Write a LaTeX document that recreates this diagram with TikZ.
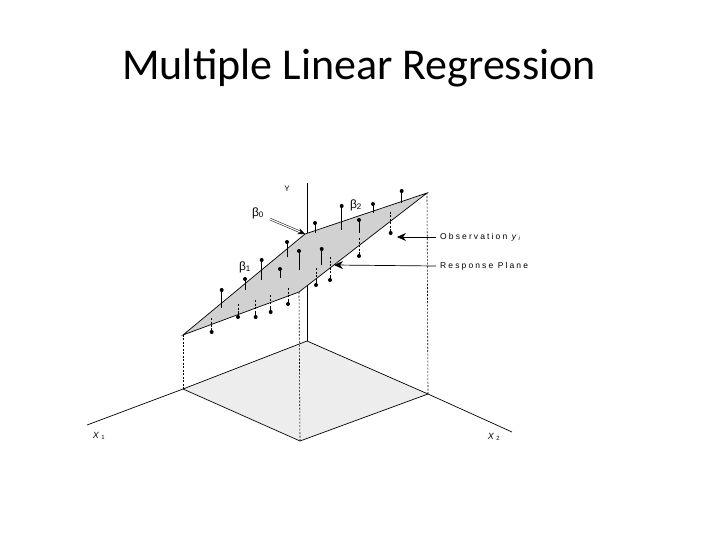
\documentclass[tikz,border=0pt]{standalone}
\usepackage{fontspec}
\setmainfont{Carlito}
\newfontfamily\lab[LetterSpace=25]{Liberation Sans}
\newfontfamily\grk{Liberation Sans}
\usetikzlibrary{arrows.meta}
\begin{document}
\begin{tikzpicture}[x=1pt,y=-1pt,
  ln/.style={line width=0.7pt},
  dsh/.style={line width=0.6pt,dash pattern=on 2pt off 1.5pt},
  dt/.style={circle,fill=black,inner sep=0pt,minimum size=4pt},
  lbl/.style={font=\lab\fontsize{8.5}{10}\selectfont,anchor=west,inner sep=0pt}]
\useasboundingbox (0,0) rectangle (720,540);
\node[font=\fontsize{44}{48}\selectfont] (title) at (359,68) {Multiple Linear Regression};
% floor
\coordinate (O) at (307,341); \coordinate (FL) at (183,389);
\coordinate (FF) at (300,441); \coordinate (FR) at (428,394);
\coordinate (X1) at (87,425); \coordinate (X2) at (512,432);
\coordinate (Yt) at (307,183);
\fill[black!7] (O) -- (FL) -- (FF) -- (FR) -- cycle;
\draw[ln] (X1) -- (FL) -- (O) -- (FR) -- (X2);
\draw[ln] (FL) -- (FF) -- (FR);
\draw[ln] (O) -- (Yt);
% plane
\coordinate (PL) at (183,335); \coordinate (PF) at (299,292);
\coordinate (PR) at (427,193); \coordinate (PB) at (305,234);
\draw[dsh] (FL) -- (PL); \draw[dsh] (FF) -- (PF); \draw[dsh] (FR) -- (PR);
\filldraw[fill=black!18,draw=black,ln] (PL) -- (PB) -- (PR) -- (PF) -- cycle;
% points above
\foreach \x/\d/\p in {221.7/290/308,245/279/290,261.7/260/280,280/269/278,287/242/257,299/251/270,315/223/233,321.7/249/265,341.7/206/230,359/220/233,373/204/213,401.7/191/203}{
  \draw[ln] (\x,\p) -- (\x,\d); \node[dt] at (\x,\d) {};}
% points below
\foreach \x/\d/\p in {211.7/332/318,238/317/304,255.7/317/300,270.7/312/295,288/304/288,316/285/268,330/280/257,359/256/238,390.7/233/212}{
  \draw[dsh] (\x,\p) -- (\x,\d-4); \draw[ln] (\x,\d-4) -- (\x,\d); \node[dt] at (\x,\d) {};}
% labels
\node[font=\lab\fontsize{8}{9}\selectfont] (ylab) at (287,189) {Y};
\node[font=\grk\fontsize{12}{12}\selectfont] (b0) at (258,213) {β\textsubscript{0}};
\node[font=\grk\fontsize{12}{12}\selectfont] (b1) at (245,267) {β\textsubscript{1}};
\node[font=\grk\fontsize{12}{12}\selectfont] (b2) at (356,205) {β\textsubscript{2}};
\coordinate (b0s) at (270,219);
\draw[double,double distance=1.2pt,line width=0.5pt,-{Stealth[length=7pt,width=6pt]}] (b0s) -- (PB);
\node[lbl] (obs) at (440,237) {Observation \textit{y}\textsubscript{\textit{i}}};
\node[lbl] (resp) at (440,266) {Response Plane};
\coordinate (obst) at (397,237); \coordinate (respt) at (334,265);
\draw[ln,-{Stealth[length=9pt,width=8pt,inset=3pt]}] (obs.west) ++(-4,0) -- (obst);
\draw[ln,-{Stealth[length=9pt,width=8pt,inset=3pt]}] (resp.west) ++(-4,0) -- (respt);
\node[font=\lab\fontsize{9}{10}\selectfont] (x1) at (99,436) {\textit{X}\textsubscript{1}};
\node[font=\lab\fontsize{9}{10}\selectfont] (x2) at (494,437) {\textit{X}\textsubscript{2}};
\end{tikzpicture}
\end{document}
